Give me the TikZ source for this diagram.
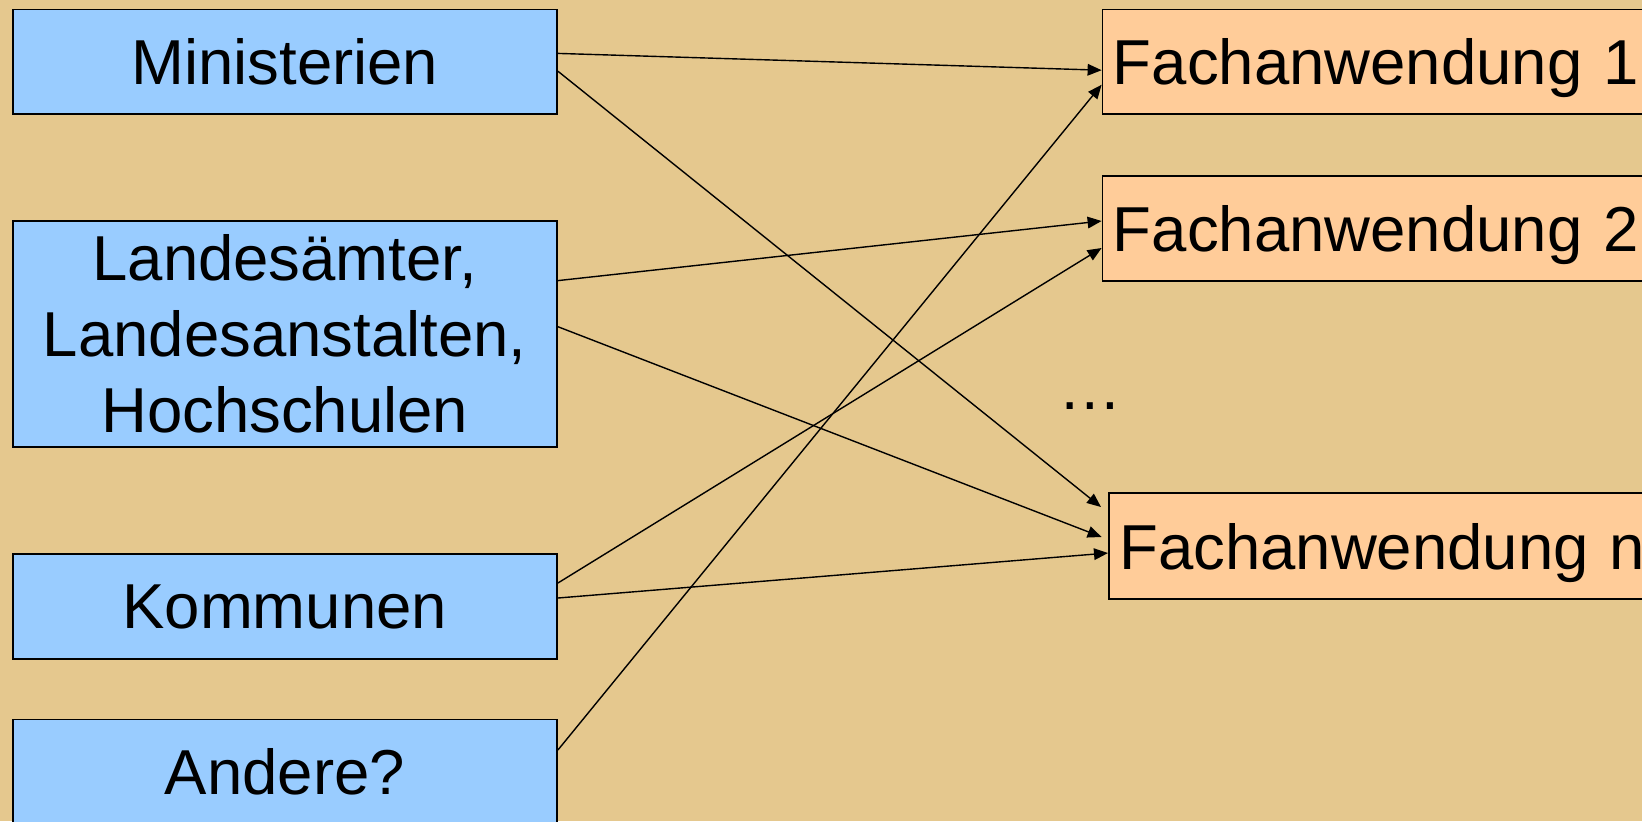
\documentclass[tikz,border=0pt]{standalone}
\usepackage{fontspec}
\setmainfont{Liberation Sans}
\usetikzlibrary{arrows.meta,calc}
\definecolor{bgtan}{RGB}{229,200,142}
\definecolor{boxblue}{RGB}{153,204,255}
\definecolor{boxorange}{RGB}{255,204,153}
\begin{document}
\begin{tikzpicture}[x=0.5pt,y=-0.5pt,
  txt/.style={font=\fontsize{31.75pt}{38pt}\selectfont},
  srcbox/.style={txt,draw=black,line width=0.9pt,fill=boxblue,minimum width=272.2pt,inner sep=0pt,align=center},
  dstbox/.style={txt,draw=black,line width=0.9pt,fill=boxorange,anchor=west,minimum height=52.35pt,inner xsep=5.2pt,inner ysep=0pt,text width=280pt,align=left,text depth=0pt},
  conn/.style={line width=0.7pt,-{Triangle[length=7pt,width=5.8pt]}}]
\path[use as bounding box,fill=bgtan] (0,0) rectangle (1642,821);
\clip (0,0) rectangle (1642,821);
% sources
\node[srcbox,minimum height=52.35pt] (mi) at (284.8,61.75) {Ministerien};
\node[srcbox,minimum height=113pt] (la) at (284.8,334) {Landesämter,\\Landesanstalten,\\Hochschulen};
\node[srcbox,minimum height=52.5pt] (ko) at (284.8,606.5) {Kommunen};
\node[srcbox,minimum height=52.5pt] (an) at (284.8,772) {Andere?};
% targets
\node[dstbox] (f1) at (1101.6,61.75) {Fachanwendung 1};
\node[dstbox] (f2) at (1101.6,228.3) {Fachanwendung 2};
\node[dstbox,minimum height=53pt] (fn) at (1108,546) {Fachanwendung n};
\node[txt,anchor=base west,inner sep=0pt] (dots) at (1058,409) {…};
% connectors
\draw[conn] ($(mi.east)+(0,-8.35)$) -- ($(f1.west)+(0,8.45)$);
\draw[conn] ($(mi.east)+(0,9.45)$) -- ($(fn.west)+(-7,-39)$);
\draw[conn] ($(la.east)+(0,-53.4)$) -- ($(f2.west)+(0,-7.3)$);
\draw[conn] ($(la.east)+(0,-7.3)$) -- ($(fn.west)+(-6.4,-9)$);
\draw[conn] ($(ko.east)+(0,-23.5)$) -- ($(f2.west)+(0,19.7)$);
\draw[conn] ($(ko.east)+(0,-8.5)$) -- ($(fn.west)+(0,7)$);
\draw[conn] ($(an.east)+(0,-22)$) -- ($(f1.west)+(0,23)$);
\end{tikzpicture}
\end{document}
